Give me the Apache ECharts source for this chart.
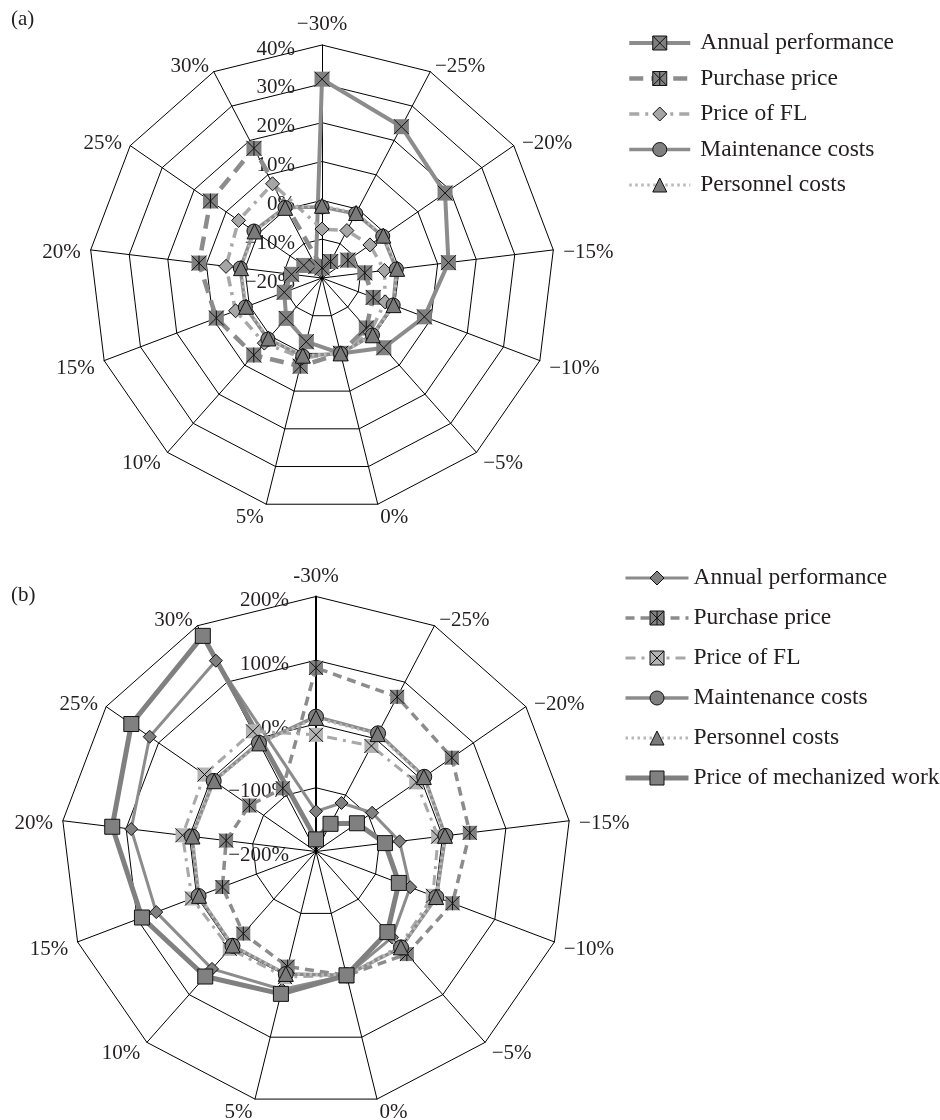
<!DOCTYPE html>
<html>
<head>
<meta charset="utf-8">
<script src="https://cdn.jsdelivr.net/npm/echarts@6/dist/echarts.min.js"></script>
<style>
  html, body { margin: 0; padding: 0; background: #ffffff; }
  #chart { width: 940px; height: 1120px; }
</style>
</head>
<body>
<div id="chart"></div>
<script>
// Spoke labels (change of the input parameter), listed clockwise from the top
const categoriesA = ['−30%', '−25%', '−20%', '−15%', '−10%', '−5%', '0%', '5%', '10%', '15%', '20%', '25%', '30%'];
const categoriesB = ['-30%', '−25%', '−20%', '−15%', '−10%', '−5%', '0%', '5%', '10%', '15%', '20%', '25%', '30%'];

// Radial value scales (percent change of the result)
const rangeA = { min: -20, max: 40, splits: 6 };
const rangeB = { min: -200, max: 200, splits: 4 };

// Legend labels
const seriesNamesA = ['Annual performance', 'Purchase price', 'Price of FL', 'Maintenance costs', 'Personnel costs'];
const seriesNamesB = ['Annual performance', 'Purchase price', 'Price of FL', 'Maintenance costs', 'Personnel costs', 'Price of mechanized work'];

// Panel (a) values, same order as categoriesA
const annualA      = [31.2, 24.0, 18.5, 12.8, 8.2, 4.0, 0, -3.1, -6.1, -9.6, -12.1, -14.3, -16.6];
const purchaseA    = [-17.4, -15.2, -11.9, -8.9, -5.9, -2.8, 0, 3.4, 6.5, 9.1, 11.9, 14.9, 17.7];
const fuelA        = [-7.4, -6.2, -5.0, -3.8, -2.6, -1.3, 0, 1.2, 2.4, 3.8, 4.9, 6.1, 7.4];
const maintenanceA = [-1.7, -1.3, -1.0, -0.7, -0.4, -0.4, 0, 0.7, 1.0, 1.1, 1.2, 1.3, 0.5];
const personnelA   = [-1.4, -1.1, -0.8, -0.5, -0.3, -0.3, 0, 0.6, 0.8, 0.9, 1.0, 1.1, 0.4];

// Panel (b) values, same order as categoriesB
const annualB      = [-137, -114, -93, -68, -42, -20, 0, 23, 46, 68, 92, 117, 138];
const purchaseB    = [88, 74, 59, 43, 29, 15, 0, -14, -28, -43, -58, -73, -88];
const fuelB        = [-17, -13, -9, -7, -4, -1.5, 0, 3, 4, 8, 11, 12.5, 13];
const maintenanceB = [11.5, 9.4, 6.3, 4.5, 2, 1.2, 0, -2, -2.5, -3, -4, -5, -7.5];
const personnelB   = [9.5, 8, 5.5, 3.8, 1.6, 0.9, 0, -2.2, -3, -3.8, -4.8, -6, -8.5];
const mechanizedB  = [-181, -151, -122, -91, -61, -31, 0, 30, 62, 92, 122, 152, 182];

const FONT = "'Liberation Serif', 'DejaVu Serif', serif";
const INK = '#231f20';
const GREY = '#8c8c8c';
const DARK = '#808080';
const LIGHT = '#a8a8a8';

const X_MARK = 'path://M0,0L10,10M10,0L0,10';
const STAR_MARK = 'path://M0,0L10,10M10,0L0,10M5,0L5,10';
const SQ_X = 'path://M0,0L10,0L10,10L0,10ZM0,0L10,10M10,0L0,10';
const SQ_STAR = 'path://M0,0L10,0L10,10L0,10ZM0,0L10,10M10,0L0,10M5,0L5,10';

// ECharts places radar indicators counter-clockwise; reorder so the spokes run clockwise
const ccw = arr => [arr[0]].concat(arr.slice(1).reverse());

const pct = v => (v < 0 ? '\u2212' + (-v) : String(v)) + '%';

// text sits a little below its anchor point
const lowered = { t: { color: INK, fontSize: 21, fontFamily: FONT, padding: [8, 0, 0, 0] } };

function makeRadar(center, radius, cats, range, boldFirst) {
  const ind = ccw(cats).map((name, i) => {
    const o = { name: name, min: range.min, max: range.max };
    if (i === 0) {
      o.axisLabel = {
        show: true, color: INK, fontSize: 21, fontFamily: FONT, margin: 27,
        formatter: v => '{t|' + pct(v) + '}',
        rich: lowered
      };
      if (boldFirst) o.axisLine = { lineStyle: { color: '#000', width: 2 } };
    }
    return o;
  });
  return {
    center: center,
    radius: radius,
    startAngle: 90,
    shape: 'polygon',
    splitNumber: range.splits,
    indicator: ind,
    nameGap: 10,
    axisName: {
      color: INK, fontSize: 21, fontFamily: FONT,
      formatter: n => '{t|' + n + '}',
      rich: lowered
    },
    axisLine: { lineStyle: { color: '#000', width: 1 } },
    splitLine: { lineStyle: { color: '#000', width: 1 } },
    splitArea: { show: false },
    axisTick: { show: false },
    axisLabel: { show: false }
  };
}

const series = [];
const legendItems = [[], []];

function addSeries(panel, radarIndex, name, values, spec) {
  // line series with no points: supplies the legend icon (line + marker)
  series.push({
    type: 'line', name: name, data: [], xAxisIndex: 0, yAxisIndex: 0,
    symbol: spec.legendSymbol || spec.symbol,
    lineStyle: { color: spec.color, width: spec.width, type: spec.type },
    itemStyle: { color: spec.fill, borderColor: '#111', borderWidth: 1 }
  });
  legendItems[panel].push({
    name: name,
    itemStyle: { color: spec.fill, borderColor: '#111', borderWidth: 1 },
    lineStyle: { color: spec.color, width: spec.legendWidth || spec.width, type: spec.type }
  });
  // radar polygon with markers
  series.push({
    type: 'radar', radarIndex: radarIndex, name: name,
    symbol: spec.symbol, symbolSize: spec.size,
    lineStyle: { color: spec.color, width: spec.width, type: spec.type, cap: 'butt' },
    itemStyle: { color: spec.fill, borderColor: spec.border ? '#111' : spec.fill, borderWidth: spec.border ? 1 : 0 },
    emphasis: { disabled: true },
    data: [{ name: name, value: ccw(values) }]
  });
  if (spec.mark) {
    // cross / star drawn over the plain square markers
    series.push({
      type: 'radar', radarIndex: radarIndex, name: name + ' mark',
      symbol: spec.mark, symbolSize: spec.size,
      lineStyle: { width: 0, opacity: 0 },
      itemStyle: { color: 'rgba(0,0,0,0)', borderColor: '#111', borderWidth: 1 },
      emphasis: { disabled: true },
      silent: true,
      data: [{ name: name + ' mark', value: ccw(values) }]
    });
  }
}

const tagB = ' (b)';

// Panel (a)
addSeries(0, 0, seriesNamesA[0], annualA, {
  color: GREY, width: 4, type: 'solid', symbol: 'rect', size: 15, fill: DARK, mark: X_MARK, legendSymbol: SQ_X
});
addSeries(0, 0, seriesNamesA[1], purchaseA, {
  color: GREY, width: 4.5, type: [14, 8], symbol: 'rect', size: 15, fill: DARK, mark: STAR_MARK, legendSymbol: SQ_STAR
});
addSeries(0, 0, seriesNamesA[2], fuelA, {
  color: LIGHT, width: 3.5, type: [10, 6, 3, 6], symbol: 'diamond', size: 14, fill: '#a6a6a6', border: true
});
addSeries(0, 0, seriesNamesA[3], maintenanceA, {
  color: GREY, width: 3.5, type: 'solid', symbol: 'circle', size: 14, fill: DARK, border: true
});
addSeries(0, 0, seriesNamesA[4], personnelA, {
  color: '#b8b8b8', width: 3, type: [2.5, 3.5], symbol: 'triangle', size: 15, fill: '#7a7a7a', border: true
});

// Panel (b)
addSeries(1, 1, seriesNamesB[0] + tagB, annualB, {
  color: GREY, width: 3, type: 'solid', symbol: 'diamond', size: 13, fill: DARK, border: true
});
addSeries(1, 1, seriesNamesB[1] + tagB, purchaseB, {
  color: GREY, width: 3.5, type: [9, 6], symbol: 'rect', size: 14, fill: DARK, mark: STAR_MARK, legendSymbol: SQ_STAR
});
addSeries(1, 1, seriesNamesB[2] + tagB, fuelB, {
  color: LIGHT, width: 3, type: [10, 6, 3, 6], symbol: 'rect', size: 14, fill: '#b3b3b3', mark: X_MARK, legendSymbol: SQ_X
});
addSeries(1, 1, seriesNamesB[3] + tagB, maintenanceB, {
  color: GREY, width: 3.5, type: 'solid', symbol: 'circle', size: 15, fill: DARK, border: true
});
addSeries(1, 1, seriesNamesB[4] + tagB, personnelB, {
  color: '#b8b8b8', width: 3, type: [2.5, 3.5], symbol: 'triangle', size: 15, fill: '#7a7a7a', border: true
});
addSeries(1, 1, seriesNamesB[5] + tagB, mechanizedB, {
  color: DARK, width: 5, type: 'solid', symbol: 'rect', size: 15, fill: DARK, border: true
});

// legend-icon line series first, so the legend picks them up
series.sort((a, b) => (a.type === 'line' ? 0 : 1) - (b.type === 'line' ? 0 : 1));

const legendText = { color: INK, fontSize: 23.5, fontFamily: FONT, lineHeight: 24 };

const option = {
  animation: false,
  backgroundColor: '#ffffff',
  title: [
    { text: '(a)', left: 6, top: 4, textStyle: { color: INK, fontSize: 21, fontWeight: 'normal', fontFamily: FONT } },
    { text: '(b)', left: 6, top: 580, textStyle: { color: INK, fontSize: 21, fontWeight: 'normal', fontFamily: FONT } }
  ],
  grid: { left: -200, top: -200, width: 10, height: 10, show: false },
  xAxis: { type: 'value', show: false },
  yAxis: { type: 'value', show: false },
  radar: [
    makeRadar([322, 278], 233, categoriesA, rangeA, false),
    makeRadar([316, 851.5], 255, categoriesB, rangeB, true)
  ],
  legend: [
    {
      orient: 'vertical', left: 627, top: 31, padding: 0,
      itemWidth: 61, itemHeight: 17.5, itemGap: 11.5,
      selectedMode: false, data: legendItems[0],
      textStyle: Object.assign({ padding: [0, 0, 0, 5] }, legendText)
    },
    {
      orient: 'vertical', left: 623, top: 566, padding: 0,
      itemWidth: 63, itemHeight: 17.5, itemGap: 16,
      selectedMode: false, data: legendItems[1],
      formatter: n => n.replace(tagB, ''),
      textStyle: Object.assign({ padding: 0 }, legendText)
    }
  ],
  series: series
};

const chart = echarts.init(document.getElementById('chart'), null, { renderer: 'canvas' });
chart.setOption(option);
</script>
</body>
</html>
